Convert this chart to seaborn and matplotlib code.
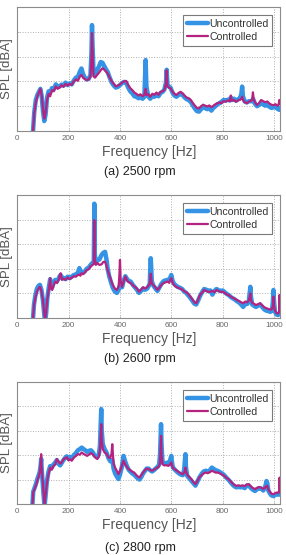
import matplotlib
matplotlib.use('Agg')
import matplotlib.pyplot as plt
import seaborn as sns

# ---- data (SPL, arbitrary dB units 0-50) ----
f1 = [60, 66, 72, 78, 84, 90, 95, 100, 105, 110,
      116, 122, 128, 135, 142, 150, 157, 165, 172, 180,
      188, 196, 204, 212, 220, 228, 236, 244, 250, 256,
      263, 270, 278, 285, 289, 291, 293, 297, 303, 310,
      318, 325, 332, 338, 345, 352, 360, 368, 376, 384,
      392, 400, 408, 416, 424, 432, 440, 448, 456, 464,
      472, 480, 488, 495, 498, 500, 503, 510, 518, 526,
      534, 542, 550, 558, 566, 573, 579, 582, 585, 590,
      597, 604, 612, 620, 628, 636, 644, 652, 660, 668,
      676, 684, 692, 700, 708, 716, 724, 732, 740, 748,
      756, 764, 772, 780, 788, 796, 804, 812, 820, 828,
      832, 836, 844, 852, 860, 868, 873, 876, 879, 886,
      894, 902, 910, 915, 918, 921, 926, 934, 942, 950,
      958, 966, 974, 982, 990, 998, 1006, 1013, 1018, 1021,
      1024]
ctrl1 = [-2, 7, 11.5, 14, 15.5, 17, 14.5, 9, 5, 7,
         12.5, 15, 14, 16.5, 16, 18, 17, 17.5, 18.5, 17.8,
         19, 18.3, 19, 18.6, 20, 20.8, 20.2, 22, 22.6, 21.5,
         21, 20.5, 20.8, 22, 30, 39.5, 33, 22, 21.5, 22.5,
         23.5, 24.5, 25.3, 24.8, 24, 23.2, 21.5, 20, 19, 18,
         18.3, 18.8, 19.5, 20, 20.2, 18.5, 17.3, 16.5, 15.5, 15,
         14.3, 14.8, 14, 14.6, 16.5, 17, 14.5, 14.8, 13.8, 15,
         14.6, 15.5, 14.6, 15.8, 16, 16.5, 19, 24.5, 18, 17.5,
         17.2, 16, 15, 14.5, 15.3, 15.8, 15.2, 14.2, 13.5, 13.2,
         12.5, 11.2, 10.2, 9.3, 9.1, 10, 10.6, 10.2, 9.9, 10.3,
         9.6, 10.2, 10.8, 11.2, 11.5, 11.2, 12, 11.8, 12.3, 12,
         14.3, 12.2, 12.5, 11.8, 12.3, 12.6, 13, 13.8, 12.5, 11.6,
         11.2, 11.8, 12.2, 12.5, 15.6, 12.8, 11.5, 10.5, 11.3, 12.5,
         12, 11.6, 11.9, 11.1, 10.6, 10.4, 10.8, 10.2, 10.5, 12.5,
         10.8]
unc1 = [-2, 7.5, 12.5, 14.5, 15.8, 17, 14, 8, 4, 6.5,
        13.5, 16, 15.5, 17.3, 16.8, 18.8, 17.8, 18, 18.7, 18.3,
        19.5, 18.5, 19.2, 18.8, 20.3, 21.5, 21.8, 24, 25.2, 23,
        21.5, 20.8, 21, 22.5, 32, 42.7, 35, 23.5, 23, 24.5,
        26, 27.8, 27.5, 26.3, 25, 23.8, 21.5, 19.5, 18.3, 17.5,
        17.8, 18.5, 19.3, 19.8, 19.5, 17.5, 16, 15.2, 14, 13.8,
        13.2, 13.6, 13, 13.8, 22, 28.6, 18, 14, 13, 14.2,
        13.8, 14.7, 14, 15.3, 15.8, 16.7, 19.5, 24.7, 18.5, 18,
        17.5, 15.6, 14.3, 13.8, 14.5, 15, 14.5, 13.5, 12.8, 12.5,
        11.6, 10.3, 9, 8, 7.8, 8.8, 9.5, 9.2, 8.8, 9.4,
        8.2, 9.3, 10, 10.8, 11.2, 11.8, 12.5, 12.3, 12.6, 12.3,
        13.5, 12.5, 13, 12.2, 12.8, 13.2, 15, 17.9, 14, 11.9,
        11.5, 12, 12, 12, 13, 12.3, 11, 10, 10.5, 11.2,
        10.8, 10.2, 10.6, 9.8, 9.3, 9.5, 9.8, 9, 8.7, 9.2,
        8.5]

f2 = [60, 65, 70, 76, 82, 88, 94, 100, 104, 108,
      112, 117, 122, 126, 128, 131, 136, 142, 148, 155,
      162, 166, 169, 174, 180, 188, 196, 204, 212, 220,
      228, 236, 242, 246, 250, 256, 263, 270, 278, 285,
      292, 298, 300, 302, 306, 312, 320, 328, 335, 342,
      348, 352, 358, 365, 372, 380, 388, 395, 398, 400,
      403, 408, 415, 421, 428, 435, 442, 450, 458, 466,
      474, 482, 490, 498, 506, 512, 516, 518, 520, 524,
      530, 538, 546, 554, 562, 570, 578, 585, 592, 596,
      600, 604, 610, 618, 626, 634, 642, 650, 658, 666,
      674, 682, 690, 697, 704, 712, 720, 728, 736, 744,
      752, 760, 768, 776, 784, 792, 800, 808, 816, 824,
      832, 840, 848, 856, 864, 872, 880, 888, 896, 902,
      906, 908, 910, 915, 922, 930, 938, 946, 954, 962,
      970, 978, 986, 992, 996, 998, 1000, 1004, 1010, 1016,
      1020, 1022, 1024]
ctrl2 = [-2, 5, 8, 10.5, 12, 12.7, 11, 7.3, 3, -1,
         2, 7.5, 11, 14, 16.2, 12, 11.4, 13.5, 14.8, 14.2,
         15.8, 17.5, 18.2, 15.5, 16, 15.5, 16.5, 15.8, 16.4, 17,
         16.8, 17.5, 17.6, 17.2, 18.2, 17.8, 18.5, 19.5, 19.8, 20.9,
         21.5, 22, 39.8, 24, 21.6, 22.3, 21.6, 21.8, 22.8, 22.9,
         21, 19.5, 17.5, 15.5, 13.4, 12, 11.4, 13, 18, 23.6,
         15, 12.7, 15, 16.9, 15.2, 14.5, 14.2, 13.3, 12.7, 12,
         10.7, 11.5, 12.5, 12, 12.6, 13.3, 14, 16, 18, 14,
         13.4, 12.5, 11.4, 12.4, 13.5, 14.2, 14.5, 14.8, 14.3, 15.5,
         16.2, 14.6, 13.5, 12.7, 12.3, 12, 11.6, 10.9, 10.5, 9.8,
         8.7, 7.6, 6.4, 6, 7.4, 9.4, 10.3, 11.4, 11, 10.6,
         10.7, 11, 10.5, 11.4, 11, 10.6, 10.7, 10.2, 9.6, 9.3,
         8.7, 8.2, 7.8, 7.3, 6.9, 6.4, 6, 6.7, 6.4, 7.2,
         8.7, 10, 7.5, 6.2, 5.8, 5.3, 5.6, 6, 5.2, 4.4,
         4, 3.7, 3.4, 3.6, 5, 8.7, 5, 3, 2, 1.8,
         2.5, 9.4, 2.5]
unc2 = [-2, 5.5, 9, 11.8, 13, 13.5, 11.5, 7, 2.5, -1.5,
        1.5, 8, 12, 14.5, 15.8, 12.5, 12.5, 14.5, 15.5, 15,
        16.3, 17.2, 17.5, 16.2, 16.3, 15.8, 16.8, 16.2, 16.8, 17.5,
        17.6, 18.5, 20.3, 18.5, 18.6, 18.4, 19, 20, 20.5, 21.5,
        22.3, 23, 46.5, 26, 22.5, 23.5, 23.8, 25.6, 26.5, 26.9,
        23.5, 20, 17, 14.5, 12.3, 10.8, 10.2, 11.5, 12.5, 13.5,
        13, 12.5, 15.5, 17, 15.8, 15, 14.8, 13.5, 12.5, 11.5,
        10.2, 11, 12, 11.5, 12, 13, 14, 20, 24.3, 15,
        13.2, 12, 11, 12.5, 14, 15, 15.3, 15.5, 15.5, 16.5,
        17.5, 15.5, 14, 13.2, 12.6, 12.3, 11.8, 10.8, 10.2, 9.2,
        8.2, 7, 5.8, 5.5, 7, 9, 10.5, 11.8, 11.5, 11,
        11.2, 9.5, 11, 11.8, 11.3, 11, 11.2, 10.5, 9.8, 9.3,
        8.5, 8, 7.5, 6.8, 6.3, 5.5, 4.5, 5.8, 5.7, 7,
        11, 12.7, 9, 5.5, 5, 4.5, 5, 5.5, 4.5, 3.5,
        3, 2.8, 2.5, 3, 7, 11.4, 7, 2.5, 1.4, 1.2,
        1.5, 2, 2]

f3 = [58, 62, 67, 72, 78, 84, 88, 91, 93, 95,
      98, 102, 106, 110, 115, 121, 128, 134, 141, 148,
      154, 160, 167, 173, 180, 187, 193, 200, 206, 212,
      220, 228, 236, 244, 251, 258, 265, 272, 280, 287,
      294, 300, 306, 312, 318, 322, 325, 327, 329, 333,
      340, 348, 355, 362, 367, 370, 372, 375, 381, 388,
      394, 400, 407, 414, 420, 427, 434, 441, 448, 455,
      462, 469, 476, 483, 490, 497, 504, 511, 518, 525,
      532, 539, 546, 552, 556, 558, 560, 562, 566, 572,
      580, 588, 594, 598, 600, 602, 606, 614, 622, 630,
      638, 645, 650, 653, 655, 657, 662, 670, 678, 686,
      694, 702, 710, 718, 726, 734, 742, 750, 758, 766,
      774, 782, 790, 798, 806, 814, 822, 830, 838, 846,
      854, 862, 870, 878, 886, 894, 902, 910, 918, 926,
      934, 942, 950, 958, 964, 968, 971, 974, 978, 984,
      990, 998, 1006, 1012, 1017, 1020, 1022, 1024]
ctrl3 = [-2, 4.7, 6, 7.4, 9.5, 11.5, 13, 17, 20.4, 15,
         10.8, 5, -0.5, 3.5, 8.2, 12, 14.9, 14, 15.6, 16.2,
         18.4, 17.5, 16.5, 17, 18.3, 18.8, 19.1, 17.8, 18.3, 17.7,
         19, 19.6, 20.4, 20.2, 21.1, 20.5, 20.1, 19.7, 20.3, 20.8,
         20.4, 19.5, 18.8, 18.4, 19.5, 22, 28, 32.7, 26, 22.5,
         21.1, 20.5, 19.1, 18.8, 20.5, 24.5, 21, 16.5, 14.9, 13.5,
         12.2, 13.5, 15.5, 17.7, 16.3, 15.2, 14.2, 13.8, 13.2, 12.9,
         12, 11.3, 10.8, 11.8, 12.9, 13.8, 14.5, 14.3, 13.9, 13.6,
         14, 14.5, 14.9, 15.3, 17, 22, 27.9, 20, 16.3, 15.8,
         15.9, 15.6, 16, 16.8, 17, 16, 14.8, 14.2, 13.6, 13,
         12.5, 12.2, 12.8, 13.8, 14.9, 13.2, 12, 11, 10.2, 9,
         8.1, 9.5, 11, 11.8, 12.5, 12.9, 12.6, 13, 13.6, 13.2,
         12.8, 12.9, 12.5, 12, 11.5, 10.8, 10.2, 9.4, 8.5, 7.8,
         7.4, 7.6, 7.4, 7.6, 7.3, 8, 8.1, 7.2, 6.5, 6.1,
         6.6, 6.9, 6.7, 6.2, 6.5, 7, 7.4, 7.4, 6, 5,
         4.2, 4, 4.5, 4.7, 4.5, 5, 10.8, 5]
unc3 = [-2, 5, 6.5, 8, 10.2, 12, 13.5, 16, 18.5, 14.5,
        10, 4, -1, 3, 9, 13, 15.5, 14.8, 16.2, 17,
        18, 16.5, 15.8, 16.8, 18, 19, 19.5, 18.5, 19.3, 18.5,
        20, 20.8, 22, 22.5, 23.1, 22.5, 22, 21.3, 21.8, 22,
        21.2, 20, 19.5, 19.2, 20.5, 24, 33, 38.9, 30, 24.5,
        22.5, 21, 18.8, 17.5, 17.5, 18, 17, 14.5, 12.5, 11.2,
        10.2, 12, 15, 19.7, 17.5, 15.5, 14, 13.2, 12.5, 12,
        11.2, 10.5, 10, 11, 12.5, 13.5, 14.5, 14.5, 13.8, 13.3,
        13.8, 14.5, 15.2, 16, 20, 27, 32.7, 24, 17, 16.5,
        16.8, 16.8, 17.5, 19, 19.7, 17.5, 15, 14, 13.2, 12.5,
        12, 11.8, 14, 18, 20.4, 15, 11.5, 10.5, 9.5, 8.5,
        7.5, 9.2, 11, 12.3, 13.3, 13.6, 13.3, 13.8, 14.9, 14.3,
        13.8, 13.5, 13, 12.5, 11.8, 10.8, 10, 9, 8, 7.2,
        6.8, 7, 6.8, 7, 6.5, 7.5, 7.5, 6.5, 5.8, 5.3,
        6, 6.5, 6.3, 5.5, 6.5, 8, 9.4, 8.5, 5.5, 4.3,
        3.5, 3.2, 3.8, 4, 3.8, 4, 4.2, 4]

captions = ['(a) 2500 rpm', '(b) 2600 rpm', '(c) 2800 rpm']
xticks = [0, 200, 400, 600, 800, 1000]

# ---- style ----
sns.set_theme(style='ticks')
plt.rcParams['font.family'] = ['Liberation Sans', 'DejaVu Sans']

blue = '#3593e6'
magenta = '#b4237f'
grey = '#666666'

fig = plt.figure(figsize=(2.86, 5.55), dpi=100)

# axes boxes [left, bottom, width, height] and caption heights, figure fraction
boxes = [[0.0605, 0.764, 0.919, 0.2234],
         [0.0605, 0.427, 0.919, 0.2216],
         [0.0605, 0.092, 0.919, 0.2198]]
cap_y = [0.690, 0.353, 0.0125]

panels = [(f1, unc1, ctrl1), (f2, unc2, ctrl2), (f3, unc3, ctrl3)]

for i, (freq, unc, ctrl) in enumerate(panels):
    ax = fig.add_axes(boxes[i])

    sns.lineplot(x=freq, y=unc, ax=ax, color=blue, lw=3.2,
                 estimator=None, sort=False, label='Uncontrolled')
    sns.lineplot(x=freq, y=ctrl, ax=ax, color=magenta, lw=1.6,
                 estimator=None, sort=False, label='Controlled')

    ax.set_xlim(0, 1024)
    ax.set_ylim(0, 50)
    ax.set_xticks(xticks)
    ax.set_yticks([10, 20, 30, 40])
    ax.set_yticklabels([])
    ax.grid(True, ls=':', lw=0.7, color='#b0b0b0')
    ax.tick_params(direction='in', length=1.5, width=0.5, colors='#aaaaaa',
                   labelcolor=grey, labelsize=5.8, pad=3)
    for sp in ax.spines.values():
        sp.set_color('#8c8c8c')
        sp.set_linewidth(0.8)

    ax.set_xlabel('Frequency [Hz]', fontsize=10, color='#555555', labelpad=2)
    ax.set_ylabel('SPL [dBA]', fontsize=9.5, color='#555555')
    ax.yaxis.set_label_coords(-0.017, 0.5)

    leg = ax.legend(loc='upper right', bbox_to_anchor=(0.97, 0.933),
                    fontsize=7.6, frameon=True, fancybox=False, framealpha=1,
                    borderpad=0.35, handlelength=2.0, handletextpad=0.1,
                    labelspacing=0.3, borderaxespad=0)
    leg.get_frame().set_edgecolor('#7a7a7a')
    leg.get_frame().set_linewidth(0.8)
    for t in leg.get_texts():
        t.set_color('#333333')

    fig.text(0.49, cap_y[i], captions[i], ha='center', va='center',
             fontsize=9, color='#222222')

plt.savefig('out.png', dpi=100)
